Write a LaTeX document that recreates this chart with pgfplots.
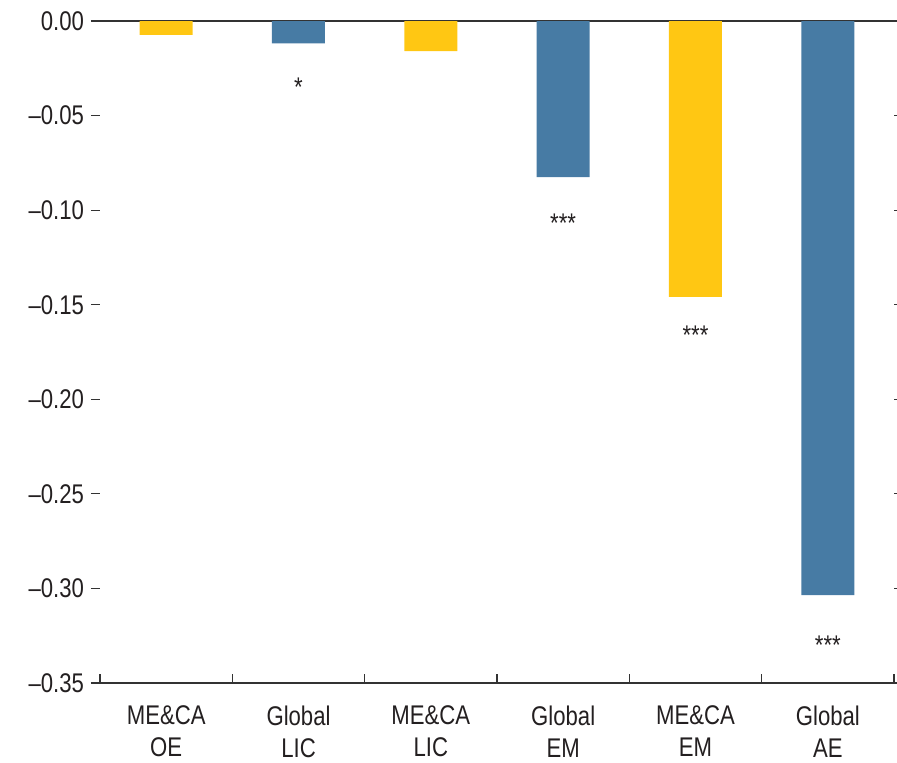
\documentclass[border=0pt]{standalone}
\usepackage{fontspec}
\setmainfont[FakeStretch=0.82]{Liberation Sans}
\usepackage{pgfplots}
\pgfplotsset{compat=1.18}
\definecolor{barY}{RGB}{255,199,19}
\definecolor{barB}{RGB}{71,123,164}
\definecolor{axgray}{RGB}{51,51,51}
\definecolor{txt}{RGB}{35,31,32}
\begin{document}
\begin{tikzpicture}
\begin{axis}[
  scale only axis,
  width=397pt, height=331pt,
  xmin=-0.5, xmax=5.5,
  ymin=-0.35, ymax=0,
  separate axis lines,
  y axis line style={draw=none},
  x axis line style={draw=axgray, line width=0.65pt},
  font=\fontsize{13.5}{16}\selectfont,
  tick label style={text=txt},
  ytick={-0.35,-0.30,-0.25,-0.20,-0.15,-0.10,-0.05,0},
  yticklabels={--0.35,--0.30,--0.25,--0.20,--0.15,--0.10,--0.05,0.00},
  ytick pos=both,
  yticklabel pos=left,
  y tick style={draw=axgray, line width=0.55pt},
  ytick align=outside,
  major tick length=4.5pt,
  xtick={-0.5,0.5,1.5,2.5,3.5,4.5,5.5},
  xticklabels={{ME\&CA\\OE},{Global\\LIC},{ME\&CA\\LIC},{Global\\EM},{ME\&CA\\EM},{Global\\AE},{}},
  x tick label style={align=center, xshift=33.1pt, yshift=-8pt},
  xtick pos=bottom,
  xtick align=inside,
  x tick style={draw=axgray, line width=0.55pt},
  bar width=26.5pt,
]
\addplot[ybar, bar shift=0pt, fill=barY, draw=none] coordinates {(0,-0.0074) (2,-0.0159) (4,-0.1458)};
\addplot[ybar, bar shift=0pt, fill=barB, draw=none] coordinates {(1,-0.0118) (3,-0.0825) (5,-0.3035)};
\node[anchor=base, inner sep=0pt, text=txt, yshift=2pt] at (axis cs:1,-0.0418) {*};
\node[anchor=base, inner sep=0pt, text=txt, yshift=2pt] at (axis cs:3,-0.1137) {***};
\node[anchor=base, inner sep=0pt, text=txt, yshift=2pt] at (axis cs:4,-0.1729) {***};
\node[anchor=base, inner sep=0pt, text=txt, yshift=2pt] at (axis cs:5,-0.3373) {***};
\end{axis}
\pgfresetboundingbox
\path (-50pt,-39.5pt) rectangle (398.5pt,341.5pt);
\end{tikzpicture}
\end{document}
